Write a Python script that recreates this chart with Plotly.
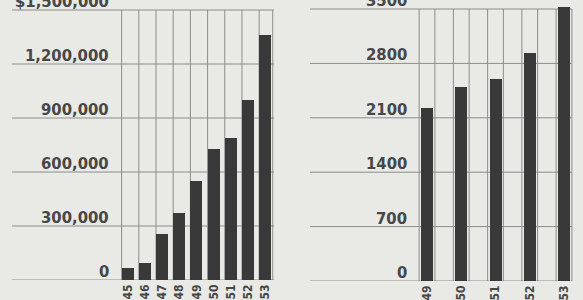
import plotly.graph_objects as go

# ---- data ----
years_left = ["45", "46", "47", "48", "49", "50", "51", "52", "53"]
values_left = [67000, 95000, 257000, 375000, 550000, 728000, 789000, 1000000, 1360000]
ticks_left = [0, 300000, 600000, 900000, 1200000, 1500000]
ticklabels_left = ["0", "300,000", "600,000", "900,000", "1,200,000", "$1,500,000"]

years_right = ["49", "50", "51", "52", "53"]
values_right = [2220, 2500, 2605, 2930, 3525]
ticks_right = [0, 700, 1400, 2100, 2800, 3500]
ticklabels_right = ["0", "700", "1400", "2100", "2800", "3500"]

# ---- style ----
W, H = 583, 300
BG = "#e9e9e6"
BAR = "#393939"
GRID = "#8c8c8c"
TXT = "#474747"
FONT = "DejaVu Sans Condensed"

def px(x):
    return x / W

def py(y):
    return 1 - y / H

fig = go.Figure()
fig.add_trace(go.Bar(x=years_left, y=values_left, marker=dict(color=BAR, line=dict(width=0)),
                     width=0.7, xaxis="x", yaxis="y", showlegend=False, hoverinfo="skip"))
fig.add_trace(go.Bar(x=years_right, y=values_right, marker=dict(color=BAR, line=dict(width=0)),
                     width=0.35, xaxis="x2", yaxis="y2", showlegend=False, hoverinfo="skip"))

shapes = []
annotations = []

# left panel: horizontal rules + labels
for v, lab in zip(ticks_left, ticklabels_left):
    shapes.append(dict(type="line", xref="paper", yref="y", x0=px(12), x1=px(274), y0=v, y1=v,
                       line=dict(color=GRID, width=1), layer="below"))
    annotations.append(dict(xref="paper", yref="y", x=px(111), y=v, text=lab, showarrow=False,
                            xanchor="right", yanchor="bottom", yshift=-3,
                            font=dict(family=FONT, size=16.5, color=TXT, weight="bold")))
# left panel: vertical rules at left edges of each bar and right edge of last
top_l = ticks_left[-1]
for i in range(len(years_left)):
    shapes.append(dict(type="line", xref="x", yref="y", x0=i - 0.37, x1=i - 0.37, y0=0, y1=top_l,
                       line=dict(color=GRID, width=1), layer="below"))
n = len(years_left) - 1
shapes.append(dict(type="line", xref="x", yref="y", x0=n + 0.42, x1=n + 0.42, y0=0, y1=top_l,
                   line=dict(color=GRID, width=1), layer="below"))

# right panel
for v, lab in zip(ticks_right, ticklabels_right):
    shapes.append(dict(type="line", xref="paper", yref="y2", x0=px(310), x1=px(572), y0=v, y1=v,
                       line=dict(color=GRID, width=1), layer="below"))
    annotations.append(dict(xref="paper", yref="y2", x=px(409), y=v, text=lab, showarrow=False,
                            xanchor="right", yanchor="bottom", yshift=-3,
                            font=dict(family=FONT, size=16.5, color=TXT, weight="bold")))
top_r = ticks_right[-1]
for i in range(len(years_right)):
    for d in (-0.23, 0.23):
        shapes.append(dict(type="line", xref="x2", yref="y2", x0=i + d, x1=i + d, y0=0, y1=top_r,
                           line=dict(color=GRID, width=1), layer="below"))

xaxis_common = dict(type="category", showgrid=False, zeroline=False, showline=False,
                    ticks="", tickangle=-90, ticklabelstandoff=1,
                    tickfont=dict(family=FONT, size=12, color=TXT, weight="bold"))

fig.update_layout(
    width=W, height=H,
    margin=dict(l=0, r=0, t=0, b=0),
    paper_bgcolor=BG, plot_bgcolor="rgba(0,0,0,0)",
    xaxis=dict(domain=[px(119.4), px(274.1)], range=[-0.5, 8.5], anchor="y", **xaxis_common),
    yaxis=dict(domain=[py(280), 1], range=[0, 1500000 * 280 / 270], visible=False),
    xaxis2=dict(domain=[px(409.9), px(581.1)], range=[-0.5, 4.5], anchor="y2", **xaxis_common),
    yaxis2=dict(domain=[py(281), 1], range=[0, 3500 * 281 / 272], visible=False),
    shapes=shapes,
    annotations=annotations,
    bargap=0,
)

fig.write_html("out.html", config={"displayModeBar": False},
               post_script="document.body.style.margin='0';document.body.style.background='" + BG + "';")
